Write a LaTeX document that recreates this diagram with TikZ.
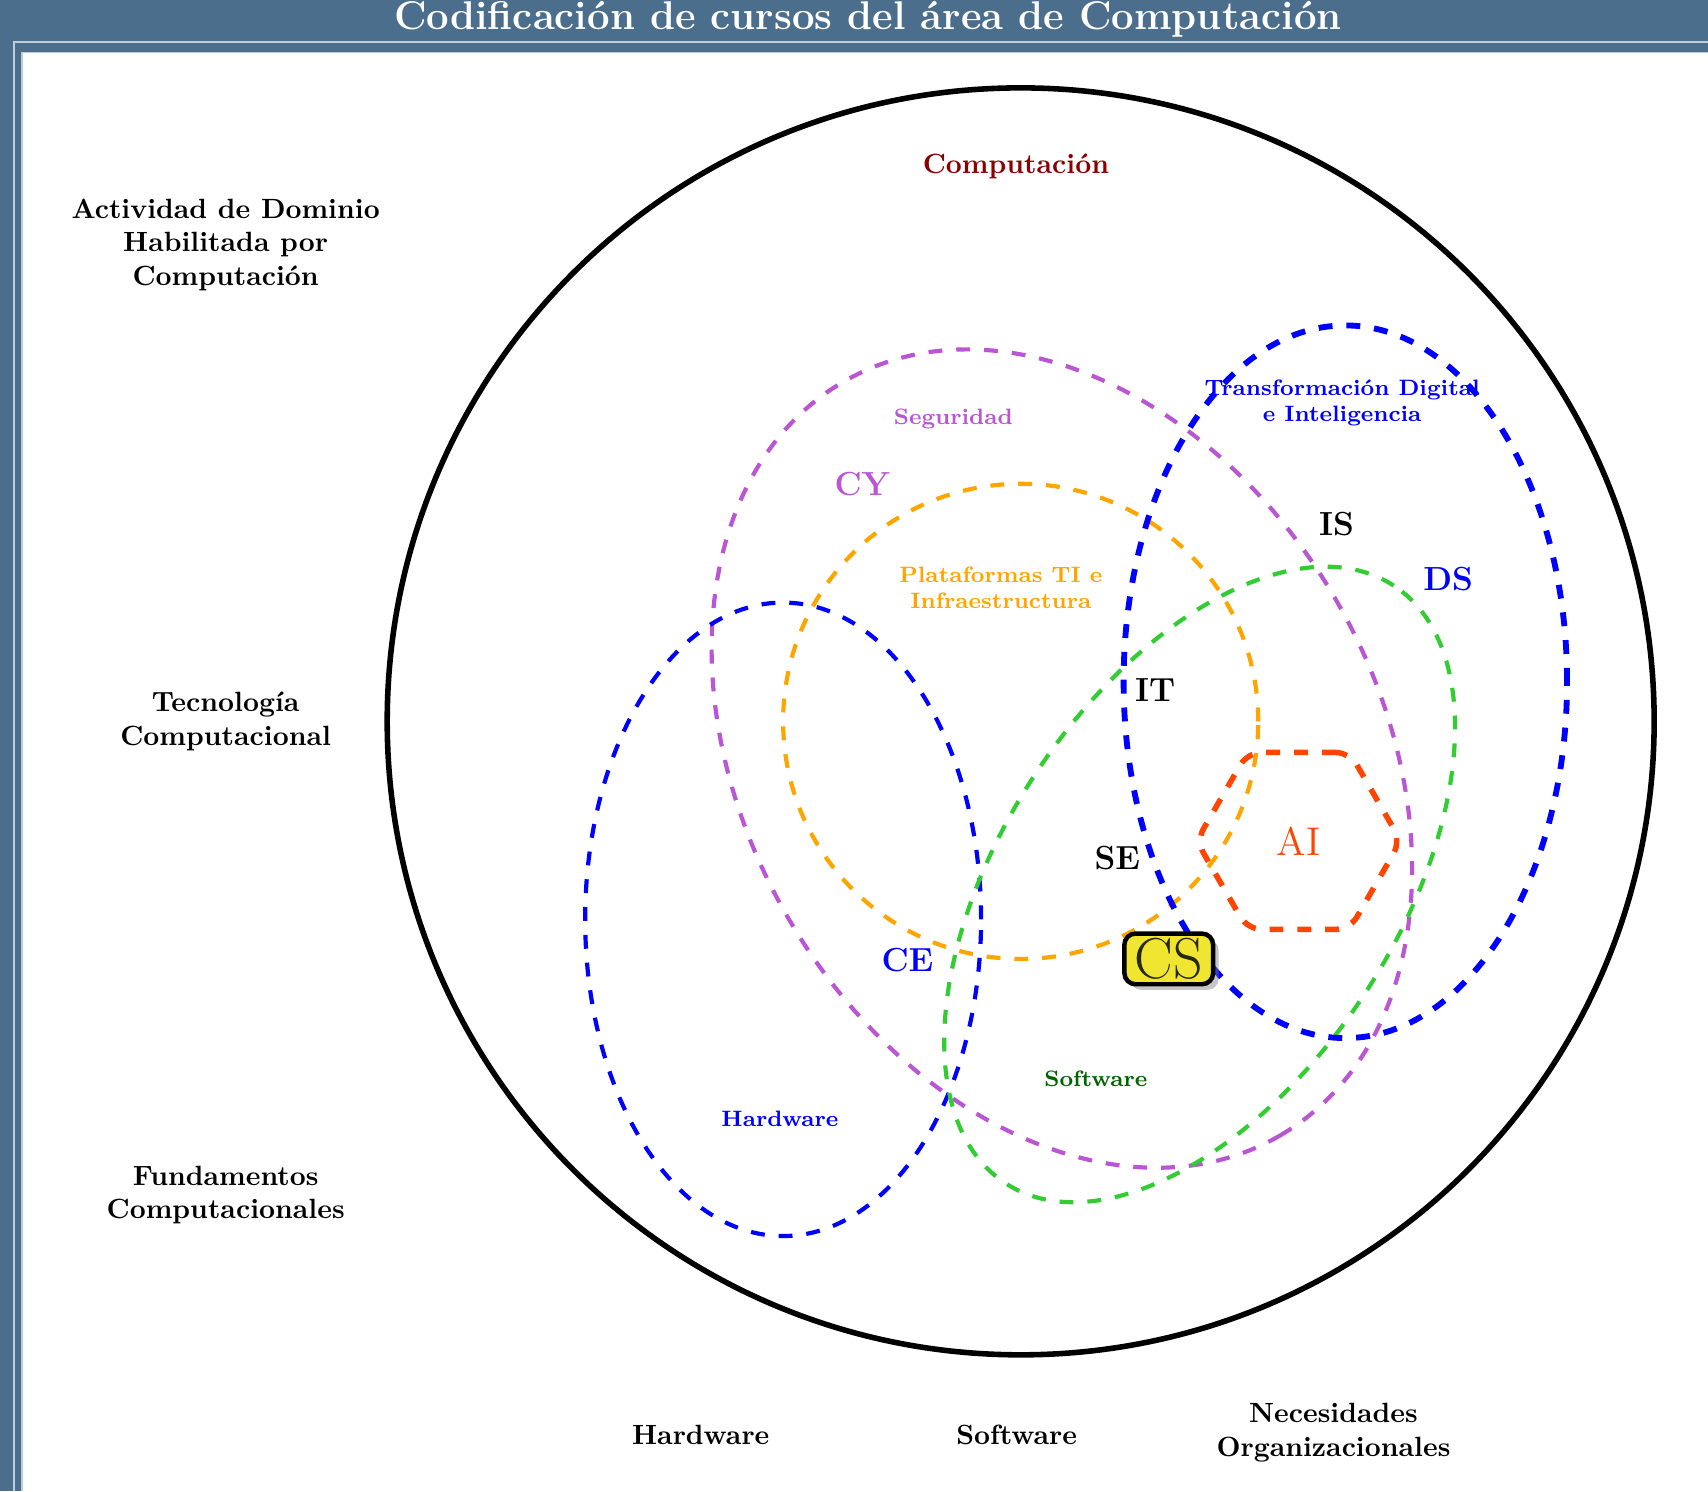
\documentclass[tikz,border=0pt]{standalone}
\usepackage{tikz}
\usetikzlibrary{shapes.geometric,shadows}
\usepackage{xcolor}
\definecolor{framebg}{RGB}{75,110,140}
\definecolor{framelight}{RGB}{190,205,220}
\definecolor{cypurple}{RGB}{186,85,211}
\definecolor{itorange}{RGB}{255,165,0}
\definecolor{segreen}{RGB}{50,205,50}
\definecolor{aired}{RGB}{255,69,0}
\definecolor{darkred}{RGB}{139,0,0}
\definecolor{darkgreen}{RGB}{0,100,0}
\definecolor{csyellow}{RGB}{240,230,50}
\definecolor{cstext}{RGB}{40,40,15}

\begin{document}
\begin{tikzpicture}[
    area/.style={dash pattern=on 5pt off 5pt, line width=1.5pt},
    axislbl/.style={font=\bfseries, align=center},
    fieldlbl/.style={font=\footnotesize\bfseries, align=center},
    code/.style={font=\large\bfseries}
]
    \useasboundingbox (-12.89,-9.72) rectangle (8.68,9.11);
    \fill[framebg] (-12.89,-9.72) rectangle (8.68,9.11);
    \draw[framelight, line width=0.6pt] (-12.71,-9.72) |- (8.68,8.58);
    \fill[white] (-12.61,-9.72) rectangle (8.68,8.45);
    \draw[framelight, line width=0.5pt] (-12.61,-9.72) |- (8.68,8.45);
    \node[font=\Large\bfseries, text=white, anchor=base] (title) at (-1.93,8.74) {Codificación de cursos del área de Computación};

    \draw[line width=2pt] (0,0) circle (8);
    \draw[area, cypurple, rotate around={-60:(0.52,-0.47)}] (0.52,-0.47) ellipse (5.5 and 4);
    \draw[area, itorange] (0,0) circle (3);
    \draw[area, blue] (-3,-2.5) ellipse (2.5 and 4);
    \draw[area, segreen, rotate around={57:(2.26,-2.06)}] (2.26,-2.06) ellipse (4.5 and 2.5);
    \draw[area, blue, line width=2.1pt] (4.1,0.5) ellipse (2.8 and 4.5);

    \node[regular polygon, regular polygon sides=6, draw=aired, area, line width=2pt, rounded corners=5pt,
          minimum size=2.58cm, inner sep=0pt, text=aired, font=\Large] (ai) at (3.51,-1.51) {AI};
    \node[draw=black, line width=1.6pt, fill=csyellow, rounded corners=4pt, text=cstext, font=\huge,
          minimum width=1.12cm, minimum height=0.64cm, inner sep=0.5pt,
          drop shadow={opacity=0.45, shadow xshift=2pt, shadow yshift=-2pt}] (cs) at (1.87,-3.0) {CS};

    \node[axislbl] (dominio) at (-10.04,6.02) {Actividad de Dominio\\Habilitada por\\Computación};
    \node[axislbl] (tecno) at (-10.04,0) {Tecnología\\Computacional};
    \node[axislbl] (fund) at (-10.04,-5.98) {Fundamentos\\Computacionales};
    \node[axislbl] (hw) at (-4.04,-9.01) {Hardware};
    \node[axislbl] (sw) at (-0.05,-9.01) {Software};
    \node[axislbl] (org) at (3.95,-8.98) {Necesidades\\Organizacionales};

    \node[axislbl, text=darkred] (comp) at (-0.06,7.01) {Computación};
    \node[fieldlbl, text=cypurple] (seg) at (-0.85,3.82) {Seguridad};
    \node[fieldlbl, text=itorange] (plat) at (-0.25,1.69) {Plataformas TI e\\Infraestructura};
    \node[fieldlbl, text=blue] (trans) at (4.06,4.02) {Transformación Digital\\e Inteligencia};
    \node[fieldlbl, text=darkgreen] (swin) at (0.95,-4.51) {Software};
    \node[fieldlbl, text=blue] (hwin) at (-3.04,-5.02) {Hardware};

    \node[code, text=cypurple] (cy) at (-2.0,3.0) {CY};
    \node[code] (is) at (3.99,2.49) {IS};
    \node[code, text=blue] (ds) at (5.40,1.80) {DS};
    \node[code] (it) at (1.70,0.39) {IT};
    \node[code] (se) at (1.22,-1.72) {SE};
    \node[code, text=blue] (ce) at (-1.43,-3.01) {CE};
\end{tikzpicture}
\end{document}
